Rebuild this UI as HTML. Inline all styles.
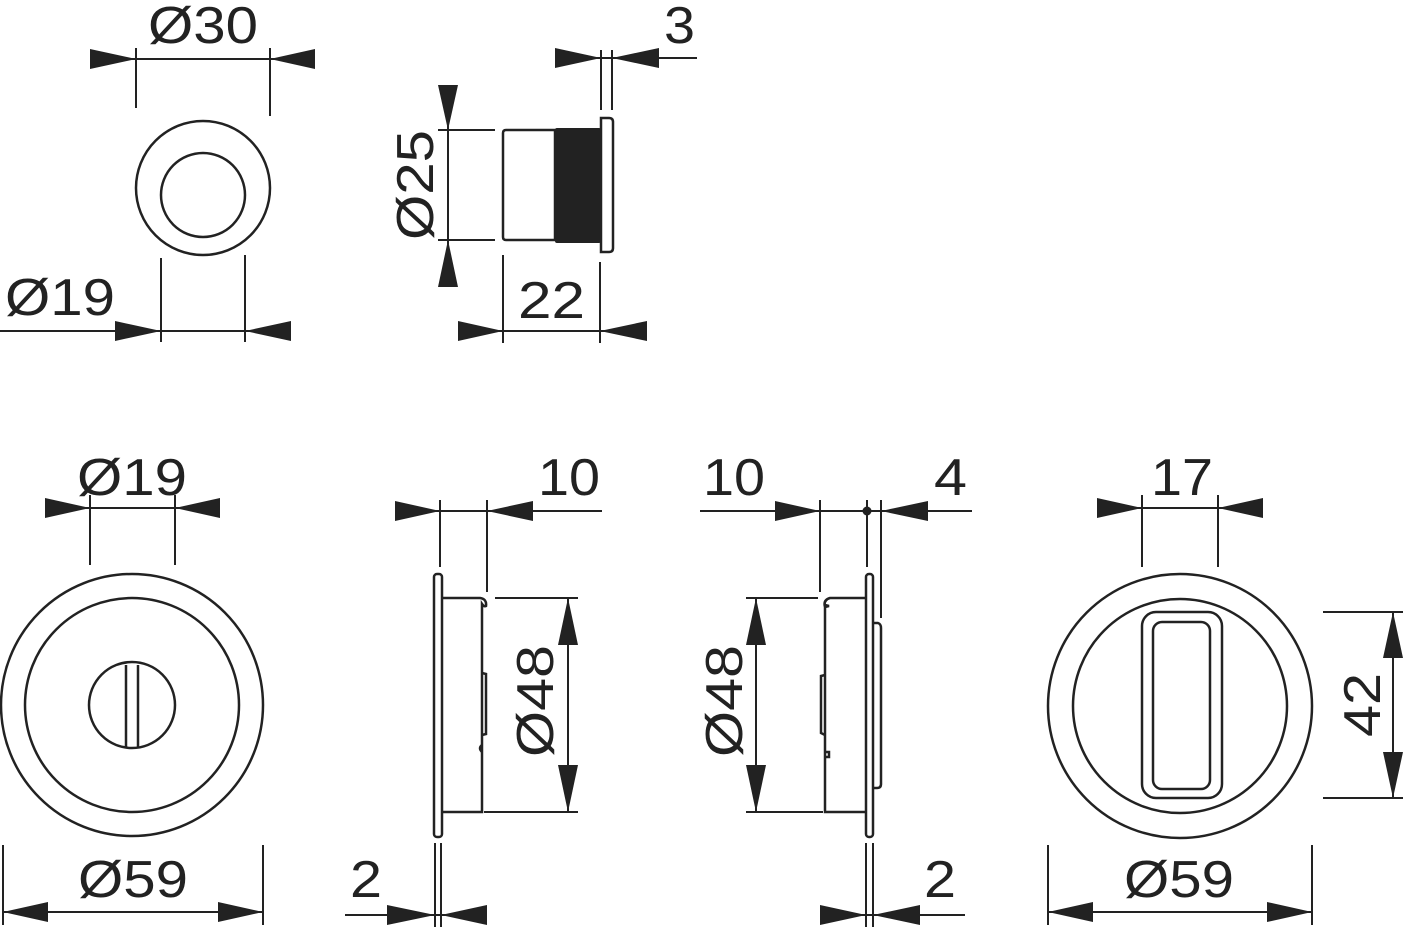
<!DOCTYPE html>
<html><head><meta charset="utf-8"><style>
html,body{margin:0;padding:0;background:#fff;}
svg{display:block;}
text{font-family:"Liberation Sans",sans-serif;font-size:52px;fill:#222;}
</style></head><body>
<svg width="1406" height="927" viewBox="0 0 1406 927" xmlns="http://www.w3.org/2000/svg">
<g stroke="#222" fill="none" stroke-width="2.5">
<!-- top-left circles -->
<circle cx="203" cy="188" r="67"/>
<circle cx="203" cy="195" r="42"/>
<!-- Ø30 dim -->
<line x1="90" y1="59" x2="315" y2="59" stroke-width="2"/>
<line x1="136" y1="48" x2="136" y2="108" stroke-width="2"/>
<line x1="270" y1="48" x2="270" y2="116" stroke-width="2"/>
<!-- Ø19 top -->
<line x1="0" y1="331" x2="291" y2="331" stroke-width="2"/>
<line x1="161" y1="258" x2="161" y2="342" stroke-width="2"/>
<line x1="245" y1="255" x2="245" y2="342" stroke-width="2"/>

<!-- top middle body -->
<path d="M506,130 L555,130 L555,240 L506,240 Q503,240 503,237 L503,133 Q503,130 506,130 Z"/>
<path d="M601,118 L609,118 Q613,118 613,122 L613,248 Q613,252 609,252 L601,252 Z"/>
<!-- Ø25 dim -->
<line x1="448" y1="85" x2="448" y2="287" stroke-width="2"/>
<line x1="438" y1="130" x2="495" y2="130" stroke-width="2"/>
<line x1="438" y1="240" x2="495" y2="240" stroke-width="2"/>
<!-- 22 dim -->
<line x1="458" y1="331" x2="647" y2="331" stroke-width="2"/>
<line x1="503" y1="255" x2="503" y2="343" stroke-width="2"/>
<line x1="600" y1="262" x2="600" y2="343" stroke-width="2"/>
<!-- 3 dim -->
<line x1="555" y1="58" x2="697" y2="58" stroke-width="2"/>
<line x1="601" y1="50" x2="601" y2="110" stroke-width="2"/>
<line x1="612" y1="50" x2="612" y2="110" stroke-width="2"/>

<!-- bottom left -->
<circle cx="132" cy="705" r="131"/>
<circle cx="132" cy="705" r="107"/>
<circle cx="132" cy="705" r="43"/>
<line x1="126" y1="665" x2="126" y2="747"/>
<line x1="138" y1="665" x2="138" y2="747"/>
<line x1="45" y1="508" x2="220" y2="508" stroke-width="2"/>
<line x1="90" y1="495" x2="90" y2="565" stroke-width="2"/>
<line x1="175" y1="495" x2="175" y2="565" stroke-width="2"/>
<line x1="3" y1="912" x2="263" y2="912" stroke-width="2"/>
<line x1="3" y1="845" x2="3" y2="925" stroke-width="2"/>
<line x1="263" y1="845" x2="263" y2="925" stroke-width="2"/>

<!-- bottom second (side view) -->
<rect x="434" y="574" width="8" height="263" rx="3"/>
<path d="M442,598 L480,598 Q487,599 486,606 Q484,607 482,604 L482,812 L442,812"/>
<path d="M482,673 L486,674 L486,734 L482,735"/>
<path d="M482,745 Q478,748 482,752"/>
<line x1="395" y1="511" x2="602" y2="511" stroke-width="2"/>
<line x1="440" y1="500" x2="440" y2="567" stroke-width="2"/>
<line x1="487" y1="500" x2="487" y2="592" stroke-width="2"/>
<line x1="568" y1="598" x2="568" y2="812" stroke-width="2"/>
<line x1="495" y1="598" x2="578" y2="598" stroke-width="2"/>
<line x1="484" y1="812" x2="578" y2="812" stroke-width="2"/>
<line x1="345" y1="915" x2="487" y2="915" stroke-width="2"/>
<line x1="435" y1="843" x2="435" y2="927" stroke-width="2"/>
<line x1="441" y1="843" x2="441" y2="927" stroke-width="2"/>

<!-- bottom third (side view) -->
<rect x="866" y="574" width="7" height="263" rx="3"/>
<path d="M873,623 L878,623 Q881,624 881,628 L881,784 Q881,788 877,788 L873,788"/>
<path d="M866,598 L830,598 Q823,600 825,607 L829,606 L825,605 L825,812 L866,812"/>
<path d="M825,675 L821,676 L821,733 L825,735"/>
<path d="M825,752 L829,752 L829,757 L825,757"/>
<line x1="700" y1="511" x2="972" y2="511" stroke-width="2"/>
<line x1="820" y1="500" x2="820" y2="592" stroke-width="2"/>
<line x1="867" y1="500" x2="867" y2="567" stroke-width="2"/>
<line x1="881" y1="500" x2="881" y2="618" stroke-width="2"/>
<line x1="756" y1="598" x2="756" y2="812" stroke-width="2"/>
<line x1="746" y1="598" x2="818" y2="598" stroke-width="2"/>
<line x1="746" y1="812" x2="823" y2="812" stroke-width="2"/>
<line x1="820" y1="915" x2="965" y2="915" stroke-width="2"/>
<line x1="866" y1="843" x2="866" y2="927" stroke-width="2"/>
<line x1="873" y1="843" x2="873" y2="927" stroke-width="2"/>

<!-- bottom right -->
<circle cx="1180" cy="706" r="132"/>
<circle cx="1180" cy="706" r="107"/>
<rect x="1142" y="612" width="80" height="186" rx="14"/>
<rect x="1153" y="622" width="57" height="167" rx="9"/>
<line x1="1097" y1="508" x2="1263" y2="508" stroke-width="2"/>
<line x1="1142" y1="495" x2="1142" y2="567" stroke-width="2"/>
<line x1="1218" y1="495" x2="1218" y2="567" stroke-width="2"/>
<line x1="1393" y1="612" x2="1393" y2="798" stroke-width="2"/>
<line x1="1323" y1="612" x2="1403" y2="612" stroke-width="2"/>
<line x1="1323" y1="798" x2="1403" y2="798" stroke-width="2"/>
<line x1="1048" y1="912" x2="1312" y2="912" stroke-width="2"/>
<line x1="1048" y1="845" x2="1048" y2="925" stroke-width="2"/>
<line x1="1312" y1="845" x2="1312" y2="925" stroke-width="2"/>
</g>
<g fill="#222">
<rect x="555" y="128" width="46" height="115" rx="2"/>
<circle cx="867" cy="511" r="4.5"/>
<!-- arrows -->
<polygon points="136,59 90,49 90,69"/>
<polygon points="270,59 315,49 315,69"/>
<polygon points="161,331 115,321 115,341"/>
<polygon points="245,331 291,321 291,341"/>
<polygon points="448,130 438,85 458,85"/>
<polygon points="448,240 438,287 458,287"/>
<polygon points="503,331 458,321 458,341"/>
<polygon points="600,331 647,321 647,341"/>
<polygon points="601,58 555,48 555,68"/>
<polygon points="612,58 659,48 659,68"/>
<polygon points="90,508 45,498 45,518"/>
<polygon points="175,508 220,498 220,518"/>
<polygon points="3,912 48,902 48,922"/>
<polygon points="263,912 218,902 218,922"/>
<polygon points="440,511 395,501 395,521"/>
<polygon points="487,511 533,501 533,521"/>
<polygon points="568,598 558,645 578,645"/>
<polygon points="568,812 558,765 578,765"/>
<polygon points="435,915 387,905 387,925"/>
<polygon points="441,915 487,905 487,925"/>
<polygon points="820,511 775,501 775,521"/>
<polygon points="881,511 928,501 928,521"/>
<polygon points="756,598 746,645 766,645"/>
<polygon points="756,812 746,765 766,765"/>
<polygon points="866,915 820,905 820,925"/>
<polygon points="873,915 920,905 920,925"/>
<polygon points="1142,508 1097,498 1097,518"/>
<polygon points="1218,508 1263,498 1263,518"/>
<polygon points="1393,612 1383,658 1403,658"/>
<polygon points="1393,798 1383,752 1403,752"/>
<polygon points="1048,912 1093,902 1093,922"/>
<polygon points="1312,912 1267,902 1267,922"/>
</g>
<g>
<text x="148" y="43" textLength="110" lengthAdjust="spacingAndGlyphs">Ø30</text>
<text x="5" y="315" textLength="110" lengthAdjust="spacingAndGlyphs">Ø19</text>
<text x="518" y="318" textLength="67" lengthAdjust="spacingAndGlyphs">22</text>
<text x="664" y="43" textLength="31" lengthAdjust="spacingAndGlyphs">3</text>
<text transform="translate(433,240) rotate(-90)" textLength="110" lengthAdjust="spacingAndGlyphs">Ø25</text>
<text x="77" y="495" textLength="110" lengthAdjust="spacingAndGlyphs">Ø19</text>
<text x="78" y="897" textLength="110" lengthAdjust="spacingAndGlyphs">Ø59</text>
<text x="538" y="495" textLength="62" lengthAdjust="spacingAndGlyphs">10</text>
<text transform="translate(553,757) rotate(-90)" textLength="112" lengthAdjust="spacingAndGlyphs">Ø48</text>
<text x="350" y="897" textLength="32" lengthAdjust="spacingAndGlyphs">2</text>
<text x="703" y="495" textLength="62" lengthAdjust="spacingAndGlyphs">10</text>
<text x="934" y="495" textLength="33" lengthAdjust="spacingAndGlyphs">4</text>
<text transform="translate(742,757) rotate(-90)" textLength="112" lengthAdjust="spacingAndGlyphs">Ø48</text>
<text x="924" y="897" textLength="32" lengthAdjust="spacingAndGlyphs">2</text>
<text x="1151" y="495" textLength="62" lengthAdjust="spacingAndGlyphs">17</text>
<text x="1124" y="897" textLength="110" lengthAdjust="spacingAndGlyphs">Ø59</text>
<text transform="translate(1380,737) rotate(-90)" textLength="64" lengthAdjust="spacingAndGlyphs">42</text>
</g>
</svg>
</body></html>
